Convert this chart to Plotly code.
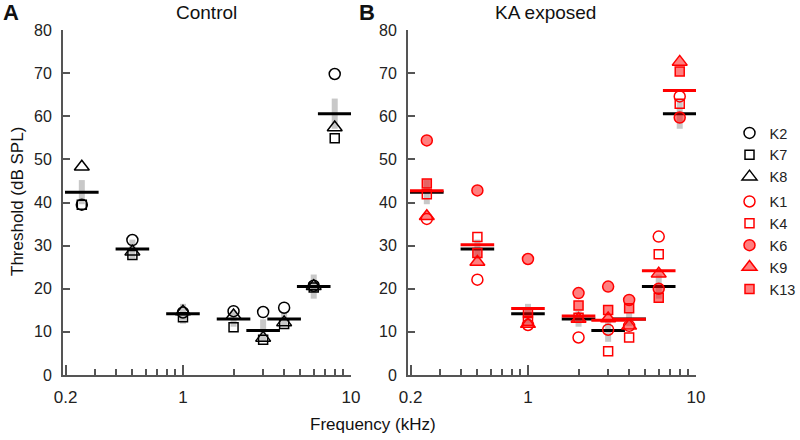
import plotly.graph_objects as go

# ---------------- data ----------------
freqs = [0.25, 0.5, 1, 2, 3, 4, 6, 8]

# Control animals
K2 = [39.5, 31.3, 14.5, 14.8, 14.6, 15.6, 20.7, 69.8]
K7 = [39.5, 27.8, 13.4, 11.1, 8.2, 11.8, 20.3, 54.9]
K8 = [48.3, 28.6, 14.7, 13.8, 8.6, 12.2, 20.6, 57.4]
ctrl_mean = [42.4, 29.2, 14.2, 13.0, 10.3, 13.0, 20.5, 60.6]
ctrl_err = [2.8, 2.2, 2.3, 1.8, 2.6, 1.6, 2.8, 3.5]

# KA exposed animals
K1 = [36.2, 22.1, 11.6, 8.7, 10.5, 11.4, 32.1, 64.6]
K4 = [41.9, 32.0, 12.6, 13.3, 5.5, 8.7, 28.0, 62.9]
K6 = [54.4, 42.8, 26.9, 19.0, 20.5, 17.4, 20.0, 59.7]
K9 = [36.8, 26.2, 11.8, 13.0, 13.1, 11.4, 23.5, 72.6]
K13 = [44.4, 28.3, 14.4, 16.1, 15.1, 15.5, 17.9, 70.4]
ka_mean = [42.7, 30.2, 15.4, 13.7, 12.7, 12.9, 24.2, 66.0]

x_tickvals = [0.2, 1, 10]
x_ticktext = ["0.2", "1", "10"]
x_minor = [0.3, 0.4, 0.5, 0.6, 0.7, 0.8, 0.9, 2, 3, 4, 5, 6, 7, 8, 9]
y_tickvals = [0, 10, 20, 30, 40, 50, 60, 70, 80]

# ---------------- styles ----------------
FONT = "Liberation Sans, Arial, sans-serif"
AX = "#555555"
GRAY = "#c8c8c8"
RED = "#ff0000"
RED_FILL = "rgba(255,0,0,0.5)"
W, H = 800, 440


def px_x(p):
    return p / W


def px_y(p):
    return 1 - p / H


fig = go.Figure()


def gray_bar(xa, ya):
    fig.add_trace(go.Scatter(
        x=freqs, y=ctrl_mean, mode="markers", xaxis=xa, yaxis=ya,
        marker=dict(size=1, opacity=0),
        error_y=dict(type="data", array=ctrl_err, visible=True,
                     color=GRAY, thickness=6, width=0),
        showlegend=False, hoverinfo="skip"))


def mean_line(vals, color, xa, ya):
    fig.add_trace(go.Scatter(
        x=freqs, y=vals, mode="markers", xaxis=xa, yaxis=ya,
        marker=dict(symbol="line-ew", size=24,
                    line=dict(color=color, width=3)),
        showlegend=False, hoverinfo="skip"))


# ---- Panel A ----
gray_bar("x", "y")
ctrl_series = [("K2", K2, "circle-open", 11), ("K7", K7, "square-open", 9),
               ("K8", K8, "triangle-up-open", 13)]
for name, vals, sym, sz in ctrl_series:
    fig.add_trace(go.Scatter(
        x=freqs, y=vals, mode="markers", name=name, xaxis="x", yaxis="y",
        legendgroup="ctrl",
        marker=dict(symbol=sym, size=sz, color="black",
                    line=dict(color="black", width=1.5))))
mean_line(ctrl_mean, "black", "x", "y")

# ---- Panel B ----
gray_bar("x2", "y2")
mean_line(ctrl_mean, "black", "x2", "y2")
ka_series = [("K1", K1, "circle-open", 11, RED),
             ("K4", K4, "square-open", 9, RED),
             ("K6", K6, "circle", 11, RED_FILL),
             ("K9", K9, "triangle-up", 13, RED_FILL),
             ("K13", K13, "square", 9, RED_FILL)]
for name, vals, sym, sz, fill in ka_series:
    fig.add_trace(go.Scatter(
        x=freqs, y=vals, mode="markers", name=name, xaxis="x2", yaxis="y2",
        legendgroup="ka",
        marker=dict(symbol=sym, size=sz, color=fill,
                    line=dict(color=RED, width=1.5))))
mean_line(ka_mean, RED, "x2", "y2")

# ---------------- layout ----------------
y_dom = [px_y(375), px_y(30)]
xa_common = dict(
    type="log", range=[-0.714, 1.0], tickmode="array",
    tickvals=x_tickvals, ticktext=x_ticktext,
    ticks="inside", ticklen=10, tickwidth=1.5, tickcolor=AX,
    minor=dict(tickmode="array", tickvals=x_minor, ticks="inside",
               ticklen=6, tickwidth=1.5, tickcolor=AX),
    showline=True, linecolor=AX, linewidth=2, showgrid=False,
    zeroline=False, tickfont=dict(family=FONT, size=17, color="#222"),
    ticklabelstandoff=6, automargin=False)
ya_common = dict(
    range=[0, 80], tickmode="array", tickvals=y_tickvals,
    ticks="inside", ticklen=7, tickwidth=1.5, tickcolor=AX,
    showline=True, linecolor=AX, linewidth=2, showgrid=False,
    zeroline=False, tickfont=dict(family=FONT, size=16, color="#222"),
    ticklabelstandoff=6, domain=y_dom, automargin=False)

fig.update_layout(
    width=W, height=H,
    margin=dict(l=0, r=0, t=0, b=0, autoexpand=False),
    paper_bgcolor="white", plot_bgcolor="white",
    font=dict(family=FONT, color="#222"),
    xaxis=dict(xa_common, domain=[px_x(63), px_x(351)], anchor="y"),
    yaxis=dict(ya_common, anchor="x"),
    xaxis2=dict(xa_common, domain=[px_x(408), px_x(696)], anchor="y2"),
    yaxis2=dict(ya_common, anchor="x2"),
    showlegend=True,
    legend=dict(x=px_x(729.5), y=px_y(117), xanchor="left", yanchor="top",
                traceorder="grouped", tracegroupgap=3,
                bgcolor="rgba(0,0,0,0)", borderwidth=0,
                font=dict(family=FONT, size=14.5, color="#222")),
)


def ann(text, px, py, size, bold=False, angle=0, xanchor="center"):
    fig.add_annotation(
        text=f"<b>{text}</b>" if bold else text,
        x=px_x(px), y=px_y(py), xref="paper", yref="paper",
        xanchor=xanchor, yanchor="middle", showarrow=False, textangle=angle,
        font=dict(family=FONT, size=size, color="#111"))


ann("A", 1, 13, 22, bold=True, xanchor="left")
ann("B", 357, 13, 22, bold=True, xanchor="left")
ann("Control", 206, 12.5, 19)
ann("KA exposed", 545, 12.5, 19)
ann("Threshold (dB SPL)", 17, 202, 17, angle=-90)
ann("Frequency (kHz)", 373, 424, 17)

# the page body gets no margin, so the 800x440 figure fills the window
fig.write_html("out.html", config={"displayModeBar": False},
               post_script="document.body.style.margin='0px';")
